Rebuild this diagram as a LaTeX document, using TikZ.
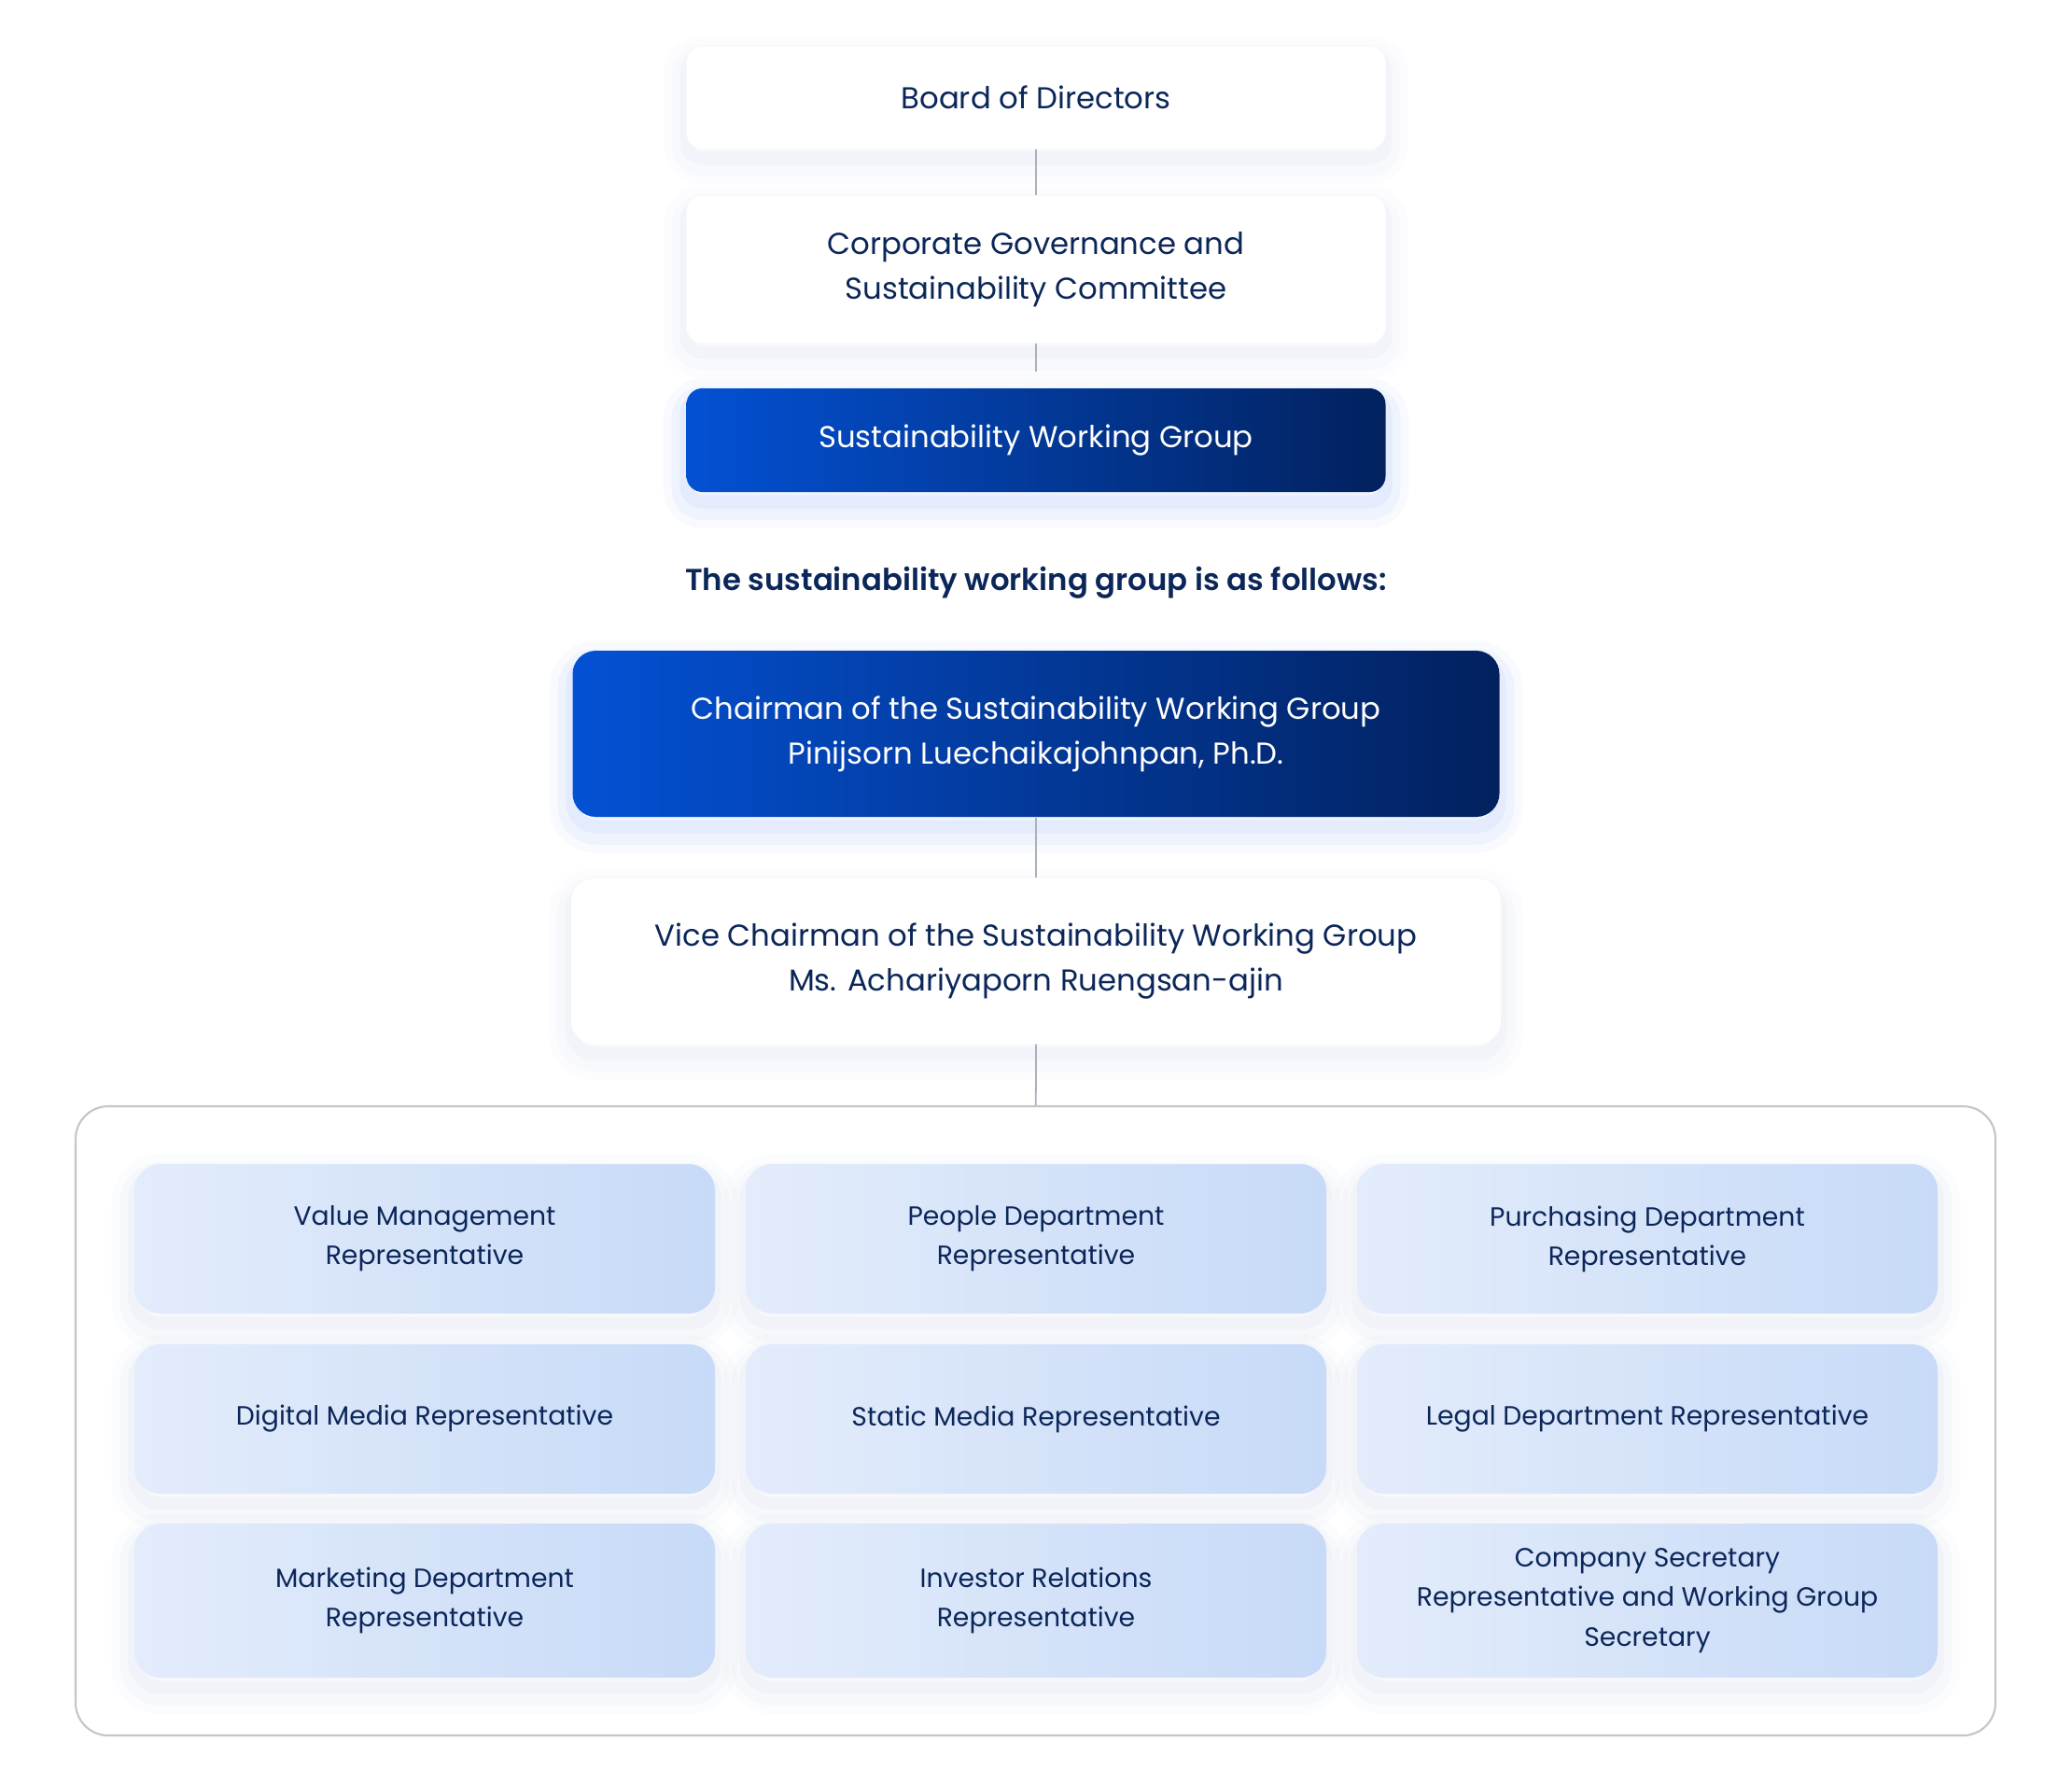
\documentclass[tikz,border=0pt]{standalone}
\usepackage{fontspec}
\setmainfont{Poppins}
\newfontfamily\headfont{Poppins SemiBold}
\usepackage{xcolor}
\usepackage{tikz}

\definecolor{navy}{HTML}{0B2659}
\definecolor{swgleft}{HTML}{0351D4}
\definecolor{swgright}{HTML}{02215E}
\definecolor{repleft}{HTML}{E3ECFB}
\definecolor{repright}{HTML}{C7DAF7}
\definecolor{linegray}{HTML}{ABB0BA}
\definecolor{framegray}{HTML}{C4C5CC}
\definecolor{glowgray}{HTML}{9FB0D6}
\definecolor{glowblue}{HTML}{2F6BEA}

\begin{document}
\begin{tikzpicture}[
  softglow/.style={
    preaction={draw=#1, line width=14pt, draw opacity=0.035, transform canvas={yshift=-4pt}},
    preaction={draw=#1, line width=9pt, draw opacity=0.045, transform canvas={yshift=-4pt}},
    preaction={draw=#1, line width=4pt, draw opacity=0.06, transform canvas={yshift=-3pt}}},
  whitebox/.style={rounded corners=0.17cm, fill=white, text=navy, align=center,
    font=\fontsize{9.2}{13.7}\selectfont, softglow=glowgray},
  bluebox/.style={rounded corners=0.17cm, left color=swgleft, right color=swgright, text=white,
    align=center, font=\fontsize{9.2}{13.7}\selectfont, softglow=glowblue},
  repbox/.style={rounded corners=0.28cm, left color=repleft, right color=repright, text=navy,
    align=center, minimum width=6.22cm, font=\fontsize{8.05}{12}\selectfont, softglow=glowgray},
  conn/.style={draw=linegray, line width=0.5pt}
]
  \useasboundingbox (0,0) rectangle (22.2,-19.1);

  \node[whitebox, minimum width=7.49cm, minimum height=1.09cm] (A) at (11.1,-1.045) {Board of Directors};
  \node[whitebox, minimum width=7.49cm, minimum height=1.57cm] (B) at (11.1,-2.885) {Corporate Governance and\\Sustainability Committee};
  \node[bluebox, minimum width=7.49cm, minimum height=1.11cm] (C) at (11.1,-4.715) {Sustainability Working Group};
  \node[text=navy, font=\fontsize{9.2}{12}\headfont] (T) at (11.1,-6.24) {The sustainability working group is as follows:};
  \node[bluebox, rounded corners=0.25cm, minimum width=9.93cm, minimum height=1.78cm] (D) at (11.1,-7.86) {Chairman of the Sustainability Working Group\\Pinijsorn Luechaikajohnpan, Ph.D.};
  \node[whitebox, rounded corners=0.25cm, minimum width=9.96cm, minimum height=1.77cm] (E) at (11.1,-10.295) {Vice Chairman of the Sustainability Working Group\\Ms. Achariyaporn Ruengsan-ajin};
  \node[draw=framegray, line width=0.6pt, fill=white, rounded corners=0.35cm, minimum width=20.57cm, minimum height=6.74cm] (F) at (11.095,-15.22) {};

  \node[repbox, minimum height=1.60cm] (R1) at (4.55,-13.27) {Value Management\\Representative};
  \node[repbox, minimum height=1.60cm] (R2) at (11.1,-13.27) {People Department\\Representative};
  \node[repbox, minimum height=1.60cm] (R3) at (17.65,-13.27) {Purchasing Department\\Representative};
  \node[repbox, minimum height=1.60cm] (R4) at (4.55,-15.20) {Digital Media Representative};
  \node[repbox, minimum height=1.60cm] (R5) at (11.1,-15.20) {Static Media Representative};
  \node[repbox, minimum height=1.60cm] (R6) at (17.65,-15.20) {Legal Department Representative};
  \node[repbox, minimum height=1.65cm] (R7) at (4.55,-17.145) {Marketing Department\\Representative};
  \node[repbox, minimum height=1.65cm] (R8) at (11.1,-17.145) {Investor Relations\\Representative};
  \node[repbox, minimum height=1.65cm] (R9) at (17.65,-17.145) {Company Secretary\\Representative and Working Group\\Secretary};

  \draw[conn] (A) -- (B);
  \draw[conn, shorten >=0.17cm] (B) -- (C);
  \draw[conn] (D) -- (E);
  \draw[conn] (E) -- (F);
\end{tikzpicture}
\end{document}
